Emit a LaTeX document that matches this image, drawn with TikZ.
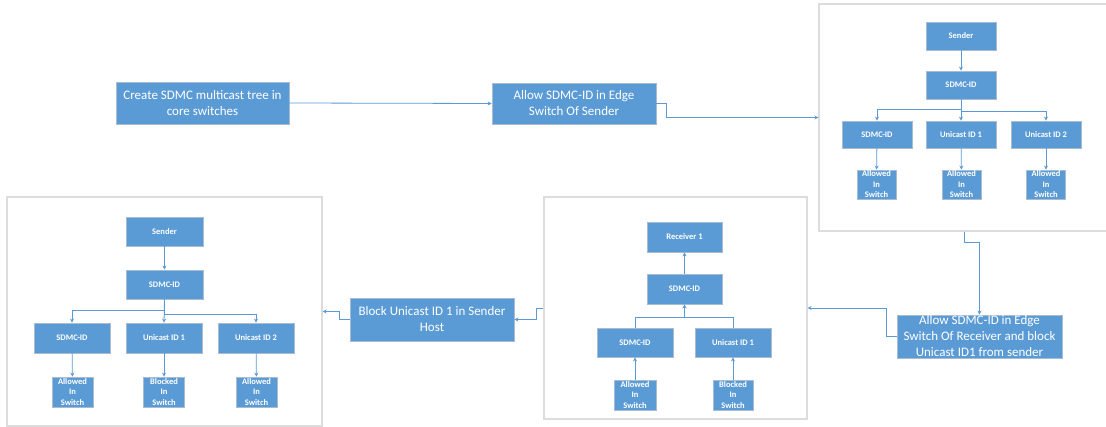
\documentclass[tikz,border=0pt]{standalone}
\usepackage{fontspec}
\setmainfont{Carlito}
\usetikzlibrary{arrows.meta}
\definecolor{boxblue}{HTML}{5B9BD5}
\definecolor{boxedge}{HTML}{A9BBCF}
\definecolor{frame}{HTML}{DCDCDC}
\tikzset{
  container/.style={draw=frame, line width=1.1pt, fill=white, inner sep=0pt},
  process/.style={draw=boxedge, line width=0.8pt, fill=boxblue, text=white, inner sep=0pt,
    align=center, font=\fontsize{13}{16}\selectfont},
  item/.style={draw=boxedge, line width=0.8pt, fill=boxblue, text=white, inner sep=0pt,
    align=center, font=\bfseries\fontsize{8.5}{10.5}\selectfont},
  wire/.style={draw=boxblue, line width=0.8pt},
  arr/.style={wire, -{Stealth[length=4pt,width=4pt]}},
  sz/.style 2 args={minimum width=#1pt, minimum height=#2pt},
}
\begin{document}
\begin{tikzpicture}[x=1pt,y=-1pt]
\clip (0,0) rectangle (1106,427);
\fill[white] (0,0) rectangle (1106,427);

% frames around the three switch states
\node[container, sz={291}{227}] (box1) at (964.5,117.5) {};
\node[container, sz={263}{222}] (box2) at (675.5,308) {};
\node[container, sz={315}{229}] (box3) at (164.5,311.5) {};

% process steps
\node[process, sz={173}{42}] (create) at (202.5,103) {Create SDMC multicast tree in\\core switches};
\node[process, sz={164}{41}] (allowS) at (574,103.5) {Allow SDMC-ID in Edge\\Switch Of Sender};
\node[process, sz={165}{43}] (allowR) at (979.5,336.5) {Allow SDMC-ID in Edge\\Switch Of Receiver and block\\Unicast ID1 from sender};
\node[process, sz={164}{43}] (block) at (432,319.5) {Block Unicast ID 1 in Sender\\Host};

% sender edge switch
\node[item, sz={70}{28}] (s1) at (961,36) {Sender};
\node[item, sz={70}{28}] (d1) at (961,85) {SDMC-ID};
\node[item, sz={70}{27}] (c11) at (877,134.5) {SDMC-ID};
\node[item, sz={70}{27}] (c12) at (961,134.5) {Unicast ID 1};
\node[item, sz={70}{27}] (c13) at (1046,134.5) {Unicast ID 2};
\node[item, sz={39}{29}] (a11) at (876.5,184.5) {Allowed\\In\\Switch};
\node[item, sz={39}{29}] (a12) at (961.5,184.5) {Allowed\\In\\Switch};
\node[item, sz={39}{29}] (a13) at (1046,184.5) {Allowed\\In\\Switch};

% receiver edge switch
\node[item, sz={75}{30}] (r2) at (684.5,237) {Receiver 1};
\node[item, sz={75}{30}] (d2) at (684.5,289) {SDMC-ID};
\node[item, sz={76}{29}] (c21) at (635,342.5) {SDMC-ID};
\node[item, sz={76}{29}] (c22) at (733,342.5) {Unicast ID 1};
\node[item, sz={42}{30}] (a21) at (635,395) {Allowed\\In\\Switch};
\node[item, sz={40}{30}] (a22) at (733,395) {Blocked\\In\\Switch};

% sender host
\node[item, sz={77}{29}] (s3) at (164.5,231.5) {Sender};
\node[item, sz={77}{29}] (d3) at (164.5,284.5) {SDMC-ID};
\node[item, sz={76}{30}] (c31) at (72,338) {SDMC-ID};
\node[item, sz={76}{30}] (c32) at (164,338) {Unicast ID 1};
\node[item, sz={76}{30}] (c33) at (256,338) {Unicast ID 2};
\node[item, sz={41}{30}] (a31) at (72.5,392) {Allowed\\In\\Switch};
\node[item, sz={41}{30}] (a32) at (164,392) {Blocked\\In\\Switch};
\node[item, sz={41}{30}] (a33) at (256.5,392) {Allowed\\In\\Switch};

% flow between the steps
\draw[arr] (create.east) -- (allowS.west);
\draw[arr] (allowS.east) -- ++(10,0) |- (box1.west);
\draw[arr] (box1.south) -- ++(0,11) -| (allowR.north);
\draw[arr] (allowR.west) -- ++(-10,0) |- (box2.east);
\draw[arr] (box2.west) -- ++(-7,0) |- (block.east);
\draw[arr] (block.west) -- ++(-10,0) |- (box3.east);

% sender edge switch tree
\draw[arr] (s1) -- (d1);
\draw[arr] (d1.south) -- ++(0,10) -| (c11.north);
\draw[arr] (d1.south) -- (c12.north);
\draw[arr] (d1.south) -- ++(0,12) -| (c13.north);
\draw[arr] (c11) -- (a11);
\draw[arr] (c12) -- (a12);
\draw[arr] (c13) -- (a13);

% receiver edge switch tree
\coordinate (j2) at (684.5,317);
\draw[wire] (c21.north) |- (j2);
\draw[wire] (c22.north) |- (j2);
\draw[arr] (j2) -- (d2.south);
\draw[arr] (d2) -- (r2);
\draw[arr] (a21) -- (c21);
\draw[arr] (a22) -- (c22);

% sender host tree
\draw[arr] (s3) -- (d3);
\draw[arr] (d3.south) -- ++(0,11) -| (c31.north);
\draw[arr] (d3.south) -- (c32.north);
\draw[arr] (d3.south) -- ++(0,15) -| (c33.north);
\draw[arr] (c31) -- (a31);
\draw[arr] (c32) -- (a32);
\draw[arr] (c33) -- (a33);
\end{tikzpicture}
\end{document}
